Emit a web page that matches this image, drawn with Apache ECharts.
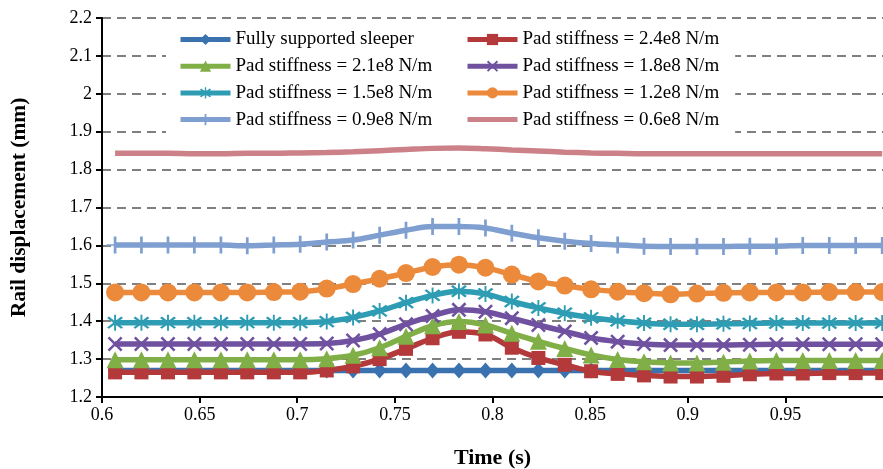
<!DOCTYPE html>
<html>
<head>
<meta charset="utf-8">
<script src="https://cdn.jsdelivr.net/npm/echarts@6/dist/echarts.min.js"></script>
<style>
html,body{margin:0;padding:0;background:#fff;}
#chart{width:883px;height:469px;}
</style>
</head>
<body>
<div id="chart"></div>
<script>
// ---- data ----
const times = [0.6067, 0.6202, 0.6338, 0.6473, 0.6609, 0.6744, 0.6880, 0.7015, 0.7151, 0.7286,
               0.7422, 0.7557, 0.7693, 0.7828, 0.7964, 0.8099, 0.8235, 0.8370, 0.8505, 0.8641,
               0.8776, 0.8912, 0.9047, 0.9183, 0.9318, 0.9454, 0.9589, 0.9725, 0.9860, 0.9996];

const seriesNames = ['Fully supported sleeper', 'Pad stiffness = 2.4e8 N/m', 'Pad stiffness = 2.1e8 N/m',
  'Pad stiffness = 1.8e8 N/m', 'Pad stiffness = 1.5e8 N/m', 'Pad stiffness = 1.2e8 N/m',
  'Pad stiffness = 0.9e8 N/m', 'Pad stiffness = 0.6e8 N/m'];

const fullySupported = [1.270, 1.270, 1.270, 1.270, 1.270, 1.270, 1.270, 1.270, 1.270, 1.270,
                        1.270, 1.270, 1.270, 1.270, 1.270, 1.270, 1.270, 1.270, 1.270, 1.270,
                        1.270, 1.270, 1.270, 1.270, 1.270, 1.270, 1.270, 1.270, 1.270, 1.270];
const pad24 = [1.265, 1.265, 1.265, 1.265, 1.265, 1.265, 1.265, 1.265, 1.270, 1.281,
               1.300, 1.327, 1.355, 1.372, 1.365, 1.330, 1.303, 1.285, 1.268, 1.261,
               1.257, 1.254, 1.254, 1.256, 1.260, 1.262, 1.262, 1.263, 1.263, 1.263];
const pad21 = [1.298, 1.298, 1.298, 1.298, 1.298, 1.298, 1.298, 1.298, 1.301, 1.310,
               1.330, 1.360, 1.388, 1.399, 1.390, 1.368, 1.347, 1.328, 1.311, 1.299,
               1.293, 1.290, 1.290, 1.292, 1.295, 1.296, 1.296, 1.296, 1.296, 1.296];
const pad18 = [1.340, 1.340, 1.340, 1.340, 1.340, 1.340, 1.340, 1.340, 1.341, 1.349,
               1.366, 1.392, 1.414, 1.430, 1.425, 1.408, 1.390, 1.373, 1.356, 1.346,
               1.340, 1.337, 1.337, 1.337, 1.338, 1.339, 1.339, 1.339, 1.339, 1.339];
const pad15 = [1.396, 1.396, 1.396, 1.396, 1.396, 1.396, 1.396, 1.396, 1.399, 1.410,
               1.427, 1.449, 1.468, 1.479, 1.472, 1.452, 1.435, 1.421, 1.409, 1.401,
               1.395, 1.392, 1.392, 1.393, 1.394, 1.395, 1.395, 1.395, 1.395, 1.395];
const pad12 = [1.476, 1.476, 1.476, 1.476, 1.476, 1.476, 1.477, 1.478, 1.486, 1.498,
               1.512, 1.527, 1.543, 1.549, 1.541, 1.523, 1.505, 1.494, 1.484, 1.478,
               1.474, 1.471, 1.473, 1.475, 1.476, 1.476, 1.476, 1.477, 1.477, 1.477];
const pad09 = [1.601, 1.601, 1.601, 1.601, 1.601, 1.599, 1.601, 1.603, 1.609, 1.614,
               1.627, 1.640, 1.650, 1.650, 1.646, 1.632, 1.620, 1.611, 1.605, 1.601,
               1.598, 1.597, 1.597, 1.597, 1.598, 1.598, 1.600, 1.600, 1.600, 1.600];
const pad06 = [1.843, 1.843, 1.843, 1.842, 1.842, 1.843, 1.843, 1.844, 1.845, 1.847,
               1.850, 1.853, 1.856, 1.857, 1.855, 1.852, 1.849, 1.846, 1.844, 1.843,
               1.842, 1.842, 1.842, 1.842, 1.842, 1.842, 1.842, 1.842, 1.842, 1.842];

const yTicks = { min: 1.2, max: 2.2, step: 0.1 };
const xTicks = { min: 0.6, max: 1.0, step: 0.05 };

// ---- styling ----
const colors = ['#3A72B0', '#B3393A', '#80AE47', '#6F51A0', '#2E9DB4', '#EC8A3C', '#7E9FCF', '#CC8088'];
const X_PATH = 'path://M0,1.2 L1.2,0 L10,8.8 L8.8,10 Z M8.8,0 L10,1.2 L1.2,10 L0,8.8 Z';
const AST_PATH = 'path://M0,1.2 L1.2,0 L10,8.8 L8.8,10 Z M8.8,0 L10,1.2 L1.2,10 L0,8.8 Z M4.4,-1.5 L5.6,-1.5 L5.6,11.5 L4.4,11.5 Z';
const PLUS_PATH = 'path://M4.2,0 L5.8,0 L5.8,10 L4.2,10 Z M0,4.6 L10,4.6 L10,5.4 L0,5.4 Z';
// legend icon: a plain thick line (bounding box padded with invisible points)
const LINE_ICON = 'path://M0,0 L0.01,0 L0.01,0.01 Z M0,4.5 L50,4.5 L50,9.5 L0,9.5 Z M0,14 L0.01,14 L0.01,13.99 Z';
const symbols = [
  { s: 'diamond', size: [14, 16] },
  { s: 'rect', size: 14 },
  { s: 'triangle', size: 17 },
  { s: X_PATH, size: 15 },
  { s: AST_PATH, size: 16 },
  { s: 'circle', size: 18 },
  { s: PLUS_PATH, size: 17 },
  { s: 'none', size: 0 }
];
const values = [fullySupported, pad24, pad21, pad18, pad15, pad12, pad09, pad06];

const serif = '"Liberation Serif", "Times New Roman", serif';

const series = seriesNames.map((name, i) => ({
  name: name,
  type: 'line',
  smooth: 0.35,
  data: times.map((t, k) => [t, values[i][k]]),
  symbol: symbols[i].s,
  symbolSize: symbols[i].size,
  showSymbol: symbols[i].s !== 'none',
  lineStyle: { color: colors[i], width: 5.5 },
  itemStyle: { color: colors[i] },
  z: 2 + i,
  animation: false
}));

const legendItem = (i) => i === 7
  ? { name: seriesNames[i], icon: LINE_ICON }
  : { name: seriesNames[i] };

const legendCommon = {
  orient: 'vertical',
  itemWidth: 50,
  itemHeight: 14,
  itemGap: 7.7,
  textStyle: { fontFamily: serif, fontSize: 19, color: '#000' },
  lineStyle: { width: 5 },
  top: 22,
  backgroundColor: '#fff',
  selectedMode: false,
  z: 10
};

const chart = echarts.init(document.getElementById('chart'), null, { renderer: 'canvas' });
chart.setOption({
  backgroundColor: '#fff',
  animation: false,
  color: colors,
  grid: { left: 102, top: 18, width: 781, height: 379, containLabel: false, outerBoundsMode: 'none' },
  legend: [
    Object.assign({}, legendCommon, { left: 166, padding: [8, 22, 8, 12],
      data: [0, 2, 4, 6].map(legendItem) }),
    Object.assign({}, legendCommon, { left: 450, padding: [8, 16, 8, 15],
      data: [1, 3, 5, 7].map(legendItem) })
  ],
  xAxis: {
    type: 'value',
    min: xTicks.min, max: xTicks.max, interval: xTicks.step,
    name: 'Time (s)',
    nameLocation: 'middle',
    nameGap: 50,
    nameTextStyle: { fontFamily: serif, fontSize: 22, fontWeight: 'bold', color: '#000' },
    axisLine: { lineStyle: { color: '#000', width: 2 } },
    axisTick: { inside: false, length: 6, lineStyle: { color: '#000', width: 2 } },
    axisLabel: { fontFamily: serif, fontSize: 18, color: '#000', margin: 9, showMaxLabel: false },
    splitLine: { show: false }
  },
  yAxis: {
    type: 'value',
    min: yTicks.min, max: yTicks.max, interval: yTicks.step,
    name: 'Rail displacement (mm)',
    nameLocation: 'middle',
    nameGap: 72,
    nameTextStyle: { fontFamily: serif, fontSize: 21.5, fontWeight: 'bold', color: '#000' },
    axisLine: { lineStyle: { color: '#000', width: 2 } },
    axisTick: { inside: false, length: 6, lineStyle: { color: '#000', width: 2 } },
    axisLabel: { fontFamily: serif, fontSize: 18, color: '#000', margin: 10,
      formatter: v => String(Math.round(v * 10) / 10) },
    splitLine: { show: true, lineStyle: { color: '#808080', width: 2, type: [9, 6] } }
  },
  series: series
});
</script>
</body>
</html>
